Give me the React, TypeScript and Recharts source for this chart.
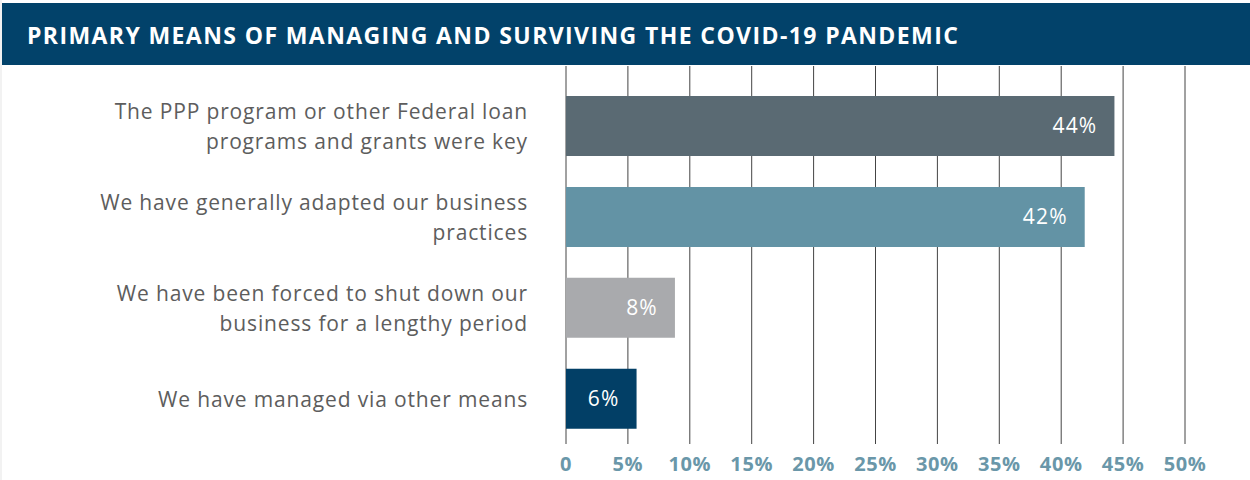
import React from "react";
import { BarChart, Bar, XAxis, YAxis, CartesianGrid, Cell, LabelList } from "recharts";

const categories = [
  ["The PPP program or other Federal loan", "programs and grants were key"],
  ["We have generally adapted our business", "practices"],
  ["We have been forced to shut down our", "business for a lengthy period"],
  ["We have managed via other means"],
];
const values = [44.3, 41.9, 8.8, 5.7];
const valueLabels = ["44%", "42%", "8%", "6%"];
const colors = ["#5a6a73", "#6393a5", "#a9aaad", "#023f66"];
const xTicks = [0, 5, 10, 15, 20, 25, 30, 35, 40, 45, 50];
const xTickLabels = ["0", "5%", "10%", "15%", "20%", "25%", "30%", "35%", "40%", "45%", "50%"];
const title = "PRIMARY MEANS OF MANAGING AND SURVIVING THE COVID-19 PANDEMIC";

const data = categories.map((c, i) => ({ idx: i, value: values[i], label: valueLabels[i] }));

const FONT = "'Open Sans', 'Noto Sans', sans-serif";

const YTick = (props: any) => {
  const { y, payload } = props;
  const lines = categories[payload.value] || [];
  const lh = 30;
  const start = y - ((lines.length - 1) * lh) / 2;
  return (
    <text x={528} y={start} textAnchor="end" fill="#5d5d5d" fontSize={21} fontFamily={FONT} letterSpacing={0.85}>
      {lines.map((l, i) => (
        <tspan key={i} x={528} y={start + i * lh} dominantBaseline="central">
          {l}
        </tspan>
      ))}
    </text>
  );
};

const XTick = (props: any) => {
  const { x, payload } = props;
  const i = xTicks.indexOf(payload.value);
  return (
    <text x={x} y={463} textAnchor="middle" dominantBaseline="central" fill="#6a97a9" fontSize={20} fontWeight={700} fontFamily={FONT} letterSpacing={0.6}>
      {xTickLabels[i]}
    </text>
  );
};

export default function App() {
  return (
    <div style={{ position: "relative", width: 1250, height: 480, background: "#fff", overflow: "hidden" }}>
      <style>{`body{margin:0}`}</style>
      <div style={{ position: "absolute", left: 0, top: 0, width: 2, height: 480, background: "#f2f2f2" }} />
      <BarChart
        width={1250}
        height={480}
        data={data}
        layout="vertical"
        margin={{ top: 66, right: 65, bottom: 6, left: 0 }}
        barCategoryGap={15.5}
      >
        <CartesianGrid horizontal={false} vertical={true} stroke="#444" strokeWidth={1} />
        <XAxis
          type="number"
          domain={[0, 50]}
          ticks={xTicks}
          axisLine={false}
          tickLine={false}
          height={30}
          tick={<XTick />}
          interval={0}
        />
        <YAxis
          type="category"
          dataKey="idx"
          width={566}
          axisLine={false}
          tickLine={false}
          tick={<YTick />}
          padding={{ top: 14.5, bottom: 0 }}
          interval={0}
        />
        <Bar dataKey="value" isAnimationActive={false}>
          {data.map((d, i) => (
            <Cell key={i} fill={colors[i]} />
          ))}
          <LabelList dataKey="label" position="insideRight" offset={17} fill="#fff" fontSize={21} fontFamily={FONT} letterSpacing={1.2} />
        </Bar>
      </BarChart>
      <div
        style={{
          position: "absolute",
          left: 2,
          top: 3,
          width: 1248,
          height: 62,
          background: "#02426a",
          color: "#fff",
          fontFamily: FONT,
          fontWeight: 700,
          fontSize: 23,
          letterSpacing: 1.4,
          lineHeight: "64px",
          paddingLeft: 25,
          boxSizing: "border-box",
          whiteSpace: "nowrap",
        }}
      >
        {title}
      </div>
    </div>
  );
}
